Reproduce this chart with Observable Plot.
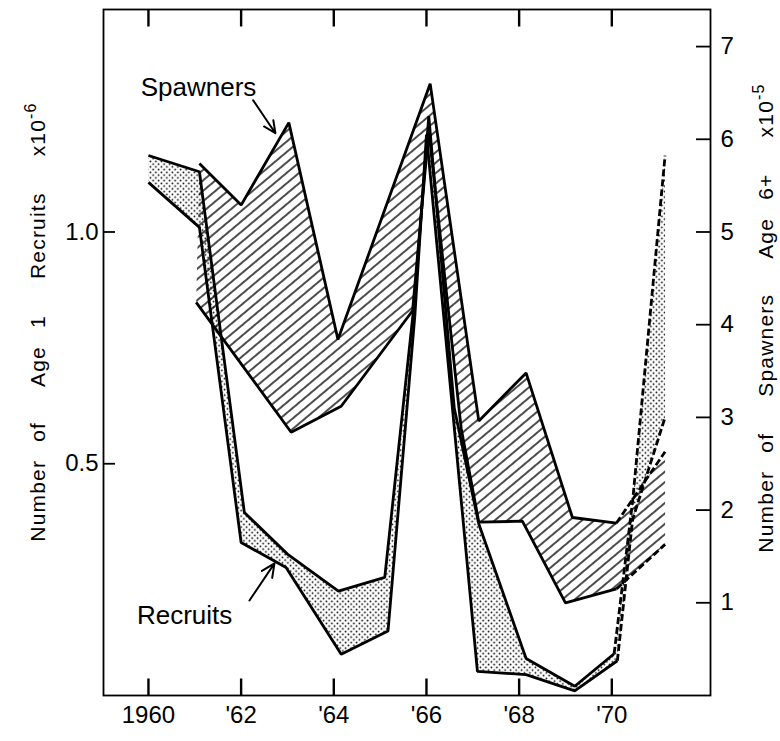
<!DOCTYPE html>
<html><head><meta charset="utf-8">
<script src="https://cdn.jsdelivr.net/npm/d3@7"></script>
<script src="https://cdn.jsdelivr.net/npm/@observablehq/plot@0.6"></script>
<style>body{margin:0;background:#fff}#chart svg{display:block}</style>
</head><body><div id="chart"></div>
<script>
// ---- data ----
// Recruits (age 1, millions) — two estimates bounding the stippled band
const recruitsUpperYear = [1960.0, 1961.1, 1962.07, 1963.0, 1964.1, 1965.1, 1965.75, 1966.05, 1966.6, 1967.13, 1968.15, 1969.2, 1970.05, 1970.45, 1971.15];
const recruitsUpper     = [1.165, 1.13, 0.395, 0.305, 0.225, 0.255, 0.86, 1.25, 0.62, 0.37, 0.08, 0.02, 0.09, 0.42, 1.165];
const recruitsLowerYear = [1960.0, 1961.1, 1962.0, 1962.97, 1964.16, 1965.17, 1965.75, 1966.0, 1967.1, 1968.15, 1969.2, 1970.12, 1970.45, 1971.15];
const recruitsLower     = [1.107, 1.01, 0.33, 0.276, 0.089, 0.139, 0.82, 1.21, 0.052, 0.045, 0.01, 0.075, 0.38, 0.60];
// Spawners (age 6+, x10^5) — two estimates bounding the hatched band
const spawnersUpperYear = [1961.1, 1962.0, 1963.03, 1964.09, 1966.08, 1967.13, 1968.15, 1969.15, 1970.1, 1971.15];
const spawnersUpper     = [5.74, 5.29, 6.18, 3.84, 6.6, 2.96, 3.48, 1.92, 1.86, 2.63];
const spawnersLowerYear = [1961.03, 1963.08, 1964.16, 1965.7, 1966.05, 1966.75, 1967.13, 1968.07, 1969.0, 1970.1, 1971.15];
const spawnersLower     = [4.24, 2.84, 3.12, 4.15, 6.1, 2.88, 1.87, 1.88, 1.0, 1.15, 1.63];
const projectionStartYear = 1970; // segments from here on are dashed

// axes
const xTickYears  = [1960, 1962, 1964, 1966, 1968, 1970];
const xTickLabels = ["1960", "'62", "'64", "'66", "'68", "'70"];
const leftTicks  = [0.5, 1.0];
const leftTickLabels = ["0.5", "1.0"];
const rightTicks = [1, 2, 3, 4, 5, 6, 7];
const rightTickLabels = ["1", "2", "3", "4", "5", "6", "7"];
const spawnerToRecruitUnits = 0.2; // 5 (x10^5 spawners) on the right axis sits level with 1.0 on the left
const xDomain = [1959.03, 1972.13];
const yDomain = [0, 1.48];

// annotations (in data units)
const annotationText = ["Spawners", "Recruits"];
const annotationYear = [1961.08, 1960.78];
const annotationValue = [1.312, 0.173];
const arrowFromYear = [1962.26, 1962.18];
const arrowFromValue = [1.284, 0.205];
const arrowToYear = [1962.74, 1962.72];
const arrowToValue = [1.213, 0.285];

const leftTitle = ["Number of  Age 1  Recruits  x10", "-6"];
const rightTitle = ["Number of  Spawners  Age 6+  x10", "-5"];

// ---- build ----
const W = 780, H = 741, mL = 103, mR = 70, mT = 9, mB = 46;
const plotW = W - mL - mR, plotH = H - mT - mB;
const font = "'Liberation Sans', Arial, sans-serif";
const xTickLen = 17 * (yDomain[1] - yDomain[0]) / plotH; // tick length in y units

const pts = (years, vals, s, name) => years.map((x, i) => ({x, y: vals[i] * s, s: name}));
const rU = pts(recruitsUpperYear, recruitsUpper, 1, "rU");
const rL = pts(recruitsLowerYear, recruitsLower, 1, "rL");
const sU = pts(spawnersUpperYear, spawnersUpper, spawnerToRecruitUnits, "sU");
const sL = pts(spawnersLowerYear, spawnersLower, spawnerToRecruitUnits, "sL");
function split(p) {
  const j = p.findIndex(d => d.x >= projectionStartYear);
  return {solid: p.slice(0, j + 1), dashed: p.slice(j)};
}
const lines = [rU, rL, sU, sL].map(split);
const solid = lines.flatMap(d => d.solid);
const dashed = lines.flatMap(d => d.dashed);
const recruitPoly = [...rU, ...rL.slice().reverse()];
const spawnPoly = [...sU, ...sL.slice().reverse()];
const annotations = annotationText.map((t, i) => ({t, x: annotationYear[i], y: annotationValue[i]}));
const arrows = arrowFromYear.map((x1, i) => ({x1, y1: arrowFromValue[i], x2: arrowToYear[i], y2: arrowToValue[i]}));
const tickMarks = xTickYears.flatMap(x => [
  {x, ya: yDomain[0], yb: yDomain[0] + xTickLen},
  {x, ya: yDomain[1], yb: yDomain[1] - xTickLen}
]);

const chart = Plot.plot({
  width: W, height: H,
  marginLeft: mL, marginRight: mR, marginTop: mT, marginBottom: mB,
  x: {domain: xDomain, axis: null},
  y: {domain: yDomain, axis: null},
  style: {fontFamily: font, fontSize: "24px", color: "#000", background: "#fff"},
  marks: [
    Plot.line(recruitPoly, {x: "x", y: "y", fill: "url(#stipple)", stroke: "none", curve: "linear"}),
    Plot.line(spawnPoly, {x: "x", y: "y", fill: "url(#hatch)", stroke: "none", curve: "linear"}),
    Plot.line(solid, {x: "x", y: "y", z: "s", stroke: "#000", strokeWidth: 2.8, strokeLinejoin: "miter", strokeLinecap: "butt"}),
    Plot.line(dashed, {x: "x", y: "y", z: "s", stroke: "#000", strokeWidth: 2.8, strokeDasharray: "7,3", strokeLinecap: "butt"}),
    Plot.frame({stroke: "#000", strokeWidth: 1.8}),
    Plot.link(tickMarks, {x1: "x", x2: "x", y1: "ya", y2: "yb", stroke: "#000", strokeWidth: 2.4}),
    Plot.tickY(leftTicks, {y: d => d, insetRight: plotW - 12, stroke: "#000", strokeWidth: 1.8}),
    Plot.tickY(rightTicks, {y: d => d * spawnerToRecruitUnits, insetLeft: plotW - 14, stroke: "#000", strokeWidth: 1.8}),
    Plot.text(xTickYears, {x: d => d, frameAnchor: "bottom", dy: 27, text: d => xTickLabels[xTickYears.indexOf(d)], fontSize: 24}),
    Plot.text(leftTicks, {y: d => d, frameAnchor: "left", dx: -5, textAnchor: "end", text: d => leftTickLabels[leftTicks.indexOf(d)], fontSize: 24}),
    Plot.text(rightTicks, {y: d => d * spawnerToRecruitUnits, frameAnchor: "right", dx: 10, textAnchor: "start", text: d => rightTickLabels[rightTicks.indexOf(d)], fontSize: 24}),
    Plot.text(annotations, {x: "x", y: "y", text: "t", fontSize: 26}),
    Plot.arrow(arrows, {x1: "x1", y1: "y1", x2: "x2", y2: "y2", stroke: "#000", strokeWidth: 2, headLength: 11, headAngle: 50})
  ]
});

const svg = d3.select(chart);
const defs = svg.insert("defs", ":first-child");
const hatch = defs.append("pattern").attr("id", "hatch").attr("patternUnits", "userSpaceOnUse")
  .attr("width", 8).attr("height", 8).attr("patternTransform", "rotate(-40)");
hatch.append("line").attr("x1", -1).attr("x2", 9).attr("y1", 4).attr("y2", 4).attr("stroke", "#000").attr("stroke-width", 1.4);
const stip = defs.append("pattern").attr("id", "stipple").attr("patternUnits", "userSpaceOnUse")
  .attr("width", 5.5).attr("height", 5.5);
stip.append("circle").attr("cx", 1.4).attr("cy", 1.4).attr("r", 0.9).attr("fill", "#000");
stip.append("circle").attr("cx", 4.15).attr("cy", 4.15).attr("r", 0.9).attr("fill", "#000");

function title(x, y, parts) {
  const t = svg.append("text").attr("transform", `translate(${x},${y}) rotate(-90)`)
    .attr("text-anchor", "middle").attr("font-family", font).attr("font-size", 21)
    .attr("letter-spacing", "1.2").attr("word-spacing", "11").attr("fill", "#000")
    .style("white-space", "pre");
  t.append("tspan").text(parts[0]);
  t.append("tspan").attr("dy", -9).attr("font-size", 16).text(parts[1]);
}
title(45, 322, leftTitle);
title(773, 318, rightTitle);

document.getElementById("chart").appendChild(chart);
</script></body></html>
